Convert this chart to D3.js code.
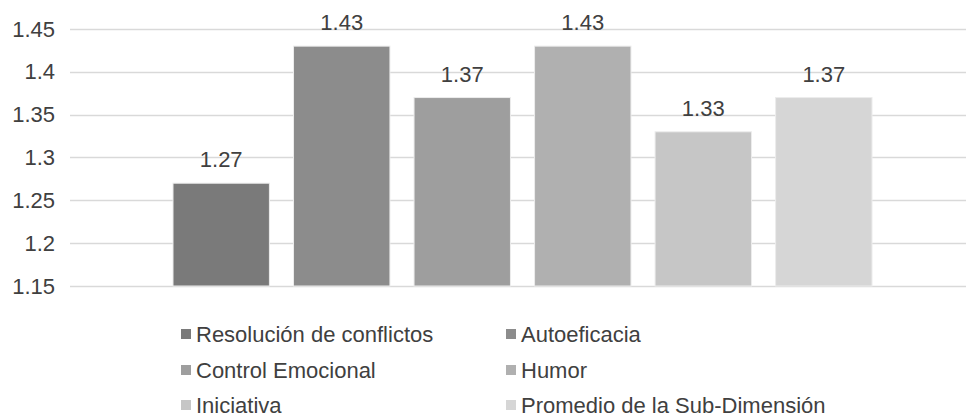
<!DOCTYPE html>
<html>
<head>
<meta charset="utf-8">
<script src="https://cdn.jsdelivr.net/npm/d3@7"></script>
<style>
  body { margin: 0; background: #fff; }
  text { font-family: "Liberation Sans", Arial, sans-serif; fill: #404040; }
</style>
</head>
<body>
<div id="chart"></div>
<script>
const series = ['Resolución de conflictos', 'Autoeficacia', 'Control Emocional', 'Humor', 'Iniciativa', 'Promedio de la Sub-Dimensión']
const values = [1.27, 1.43, 1.37, 1.43, 1.33, 1.37]
const yTicks = [1.15, 1.2, 1.25, 1.3, 1.35, 1.4, 1.45]
const colors = ['#7a7a7a', '#8c8c8c', '#9e9e9e', '#b0b0b0', '#c6c6c6', '#d6d6d6']

const width = 966
const height = 418
const fontSize = 22

const svg = d3.select('#chart')
  .append('svg')
  .attr('width', width)
  .attr('height', height)

const y = d3.scaleLinear()
  .domain([1.15, 1.45])
  .range([286, 29])

const x = d3.scaleBand()
  .domain(series)
  .range([173, 872])
  .paddingInner(0.2)
  .paddingOuter(0)

// gridlines
svg.append('g')
  .selectAll('line')
  .data(yTicks)
  .enter().append('line')
  .attr('x1', 70)
  .attr('x2', width)
  .attr('y1', d => Math.round(y(d)) + 0.5)
  .attr('y2', d => Math.round(y(d)) + 0.5)
  .attr('stroke', '#d9d9d9')
  .attr('stroke-width', 1.5)

// y axis labels
const yAxis = d3.axisLeft(y)
  .tickValues(yTicks)
  .tickFormat(d => String(+d.toFixed(2)))
  .tickSize(0)
  .tickPadding(0)

svg.append('g')
  .attr('transform', 'translate(55, 0)')
  .call(yAxis)
  .call(g => g.select('.domain').remove())
  .selectAll('text')
  .attr('font-size', fontSize)
  .attr('font-family', '"Liberation Sans", Arial, sans-serif')
  .attr('fill', '#404040')

// bars
svg.append('g')
  .selectAll('rect')
  .data(values)
  .enter().append('rect')
  .attr('x', (d, i) => x(series[i]))
  .attr('y', d => y(d))
  .attr('width', x.bandwidth())
  .attr('height', d => y(1.15) - y(d))
  .attr('fill', (d, i) => colors[i])
  .attr('stroke', '#ececec')
  .attr('stroke-width', 1)

// value labels
svg.append('g')
  .selectAll('text')
  .data(values)
  .enter().append('text')
  .attr('x', (d, i) => x(series[i]) + x.bandwidth() / 2)
  .attr('y', d => y(d) - 16)
  .attr('text-anchor', 'middle')
  .attr('font-size', fontSize)
  .text(d => d.toFixed(2))

// legend: 2 columns, 3 rows
const legendCols = [181, 506]
const legendRows = [334, 370, 405]

const legend = svg.append('g')
  .selectAll('g')
  .data(series)
  .enter().append('g')
  .attr('transform', (d, i) => `translate(${legendCols[i % 2]}, ${legendRows[Math.floor(i / 2)]})`)

legend.append('rect')
  .attr('x', 0)
  .attr('y', -5)
  .attr('width', 10)
  .attr('height', 10)
  .attr('fill', (d, i) => colors[i])

legend.append('text')
  .attr('x', 15)
  .attr('dy', '0.35em')
  .attr('font-size', fontSize)
  .text(d => d)
</script>
</body>
</html>
